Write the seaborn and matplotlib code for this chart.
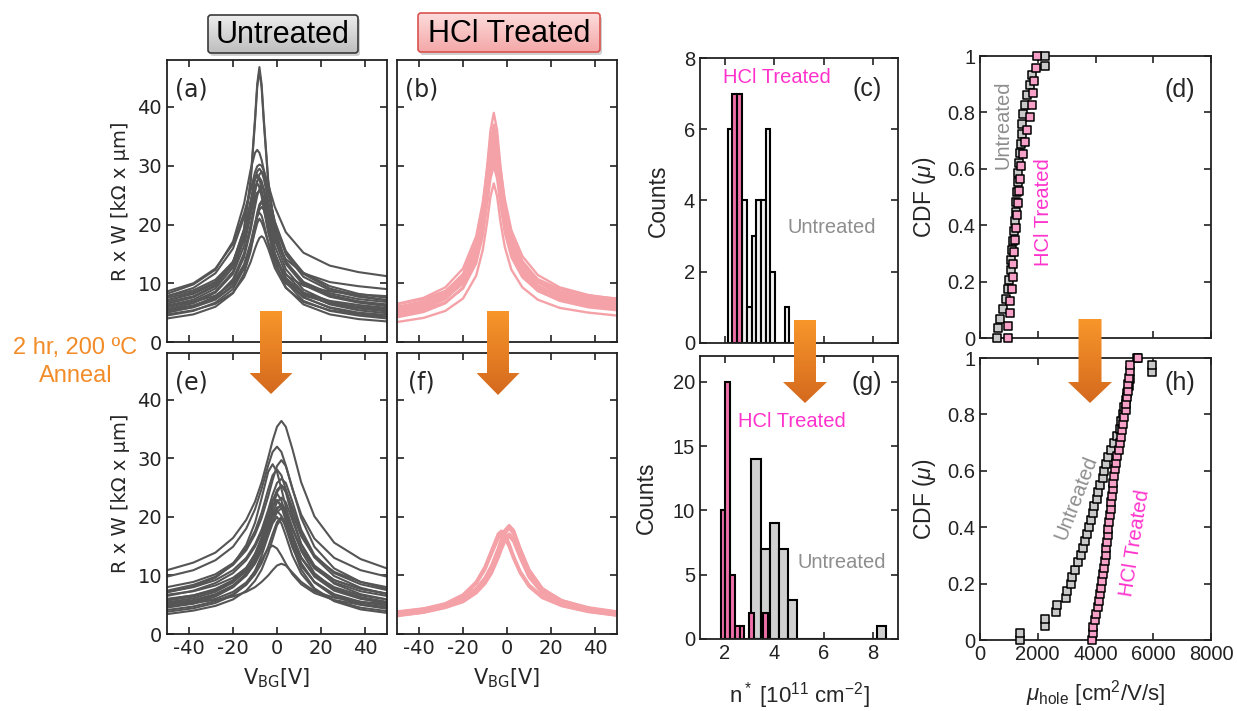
import numpy as np
import pandas as pd
import matplotlib
matplotlib.use("Agg")
import matplotlib.pyplot as plt
import seaborn as sns
from matplotlib.patches import Polygon, FancyBboxPatch
from matplotlib.colors import LinearSegmentedColormap

# ---------------- data: R x W curves (kOhm x um) vs V_BG (V) ----------------
V_a = [-50, -38, -28, -20, -15, -12, -10, -9, -8, -7, -6, -4, -1, 4, 12, 24, 37, 50]
curves_a = [
    [7.1, 8.2, 10.0, 13.5, 19.2, 27.6, 38.0, 43.9, 46.8, 43.9, 38.0, 27.6, 19.2, 13.5, 10.0, 7.9, 6.9, 6.4],
    [8.2, 9.8, 12.3, 17.1, 23.5, 29.3, 32.2, 32.7, 32.2, 31.0, 29.3, 25.4, 20.5, 15.5, 11.6, 9.1, 7.9, 7.1],
    [7.8, 9.2, 11.7, 15.9, 21.2, 25.9, 28.9, 29.9, 30.2, 30.0, 29.2, 26.8, 23.0, 18.7, 15.2, 13.0, 11.9, 11.2],
    [7.8, 8.8, 10.6, 13.6, 17.7, 22.0, 25.6, 27.3, 28.5, 29.0, 28.5, 25.6, 20.4, 14.9, 11.1, 8.8, 7.7, 7.1],
    [5.6, 6.6, 8.4, 11.6, 16.3, 21.5, 25.8, 27.4, 28.0, 27.4, 25.8, 21.5, 16.3, 11.6, 8.4, 6.4, 5.4, 4.9],
    [5.9, 6.9, 8.6, 12.0, 17.4, 23.5, 27.8, 28.5, 27.8, 25.9, 23.5, 19.1, 14.7, 10.9, 8.2, 6.5, 5.7, 5.2],
    [5.0, 6.0, 7.6, 10.7, 15.1, 19.9, 23.8, 25.3, 25.8, 25.3, 23.8, 19.9, 15.1, 10.7, 7.6, 5.8, 4.8, 4.3],
    [4.0, 4.7, 6.0, 8.3, 11.6, 15.4, 19.3, 21.4, 23.1, 23.8, 23.1, 19.3, 13.9, 9.3, 6.4, 4.7, 3.9, 3.5],
    [7.1, 8.3, 10.2, 13.7, 18.1, 22.0, 24.6, 25.4, 25.7, 25.4, 24.6, 22.0, 18.1, 13.7, 10.2, 8.0, 6.9, 6.2],
    [6.2, 7.2, 9.1, 12.7, 17.9, 23.2, 26.4, 26.9, 26.4, 25.3, 23.8, 20.8, 17.3, 14.1, 11.7, 10.2, 9.5, 9.0],
    [5.1, 5.9, 7.2, 9.5, 12.8, 16.4, 19.6, 21.3, 22.5, 23.0, 22.5, 19.6, 15.0, 10.6, 7.6, 5.9, 5.0, 4.6],
    [4.7, 5.4, 6.5, 8.4, 11.0, 13.6, 15.9, 16.9, 17.7, 18.0, 17.7, 15.9, 12.6, 9.2, 6.8, 5.4, 4.7, 4.3],
    [6.2, 6.8, 7.9, 10.0, 13.2, 16.9, 20.2, 21.5, 22.0, 21.5, 20.2, 16.9, 13.2, 10.0, 7.9, 6.7, 6.0, 5.7],
    [8.6, 10.0, 12.5, 16.7, 21.9, 25.9, 27.8, 28.1, 27.8, 27.1, 25.9, 23.3, 19.5, 15.3, 11.8, 9.5, 8.2, 7.5],
    [7.5, 8.5, 10.2, 13.6, 19.1, 27.2, 37.4, 43.3, 46.2, 43.3, 37.4, 27.2, 19.1, 13.6, 10.2, 8.3, 7.3, 6.8],
    [4.5, 5.3, 6.7, 9.0, 12.5, 16.5, 20.0, 22.0, 23.4, 24.0, 23.4, 20.3, 15.0, 10.2, 7.0, 5.3, 4.5, 4.0],
    [6.5, 7.6, 9.5, 13.2, 18.5, 23.8, 26.4, 27.0, 26.4, 24.8, 22.7, 18.6, 14.3, 10.8, 8.4, 7.0, 6.3, 5.8],
    [6.8, 7.8, 9.7, 13.3, 18.4, 24.0, 27.8, 29.0, 29.5, 29.0, 27.8, 24.0, 18.4, 13.3, 9.7, 7.7, 6.7, 6.1],
    [5.5, 6.2, 7.4, 9.6, 12.7, 15.9, 18.8, 20.2, 21.0, 20.4, 19.4, 17.0, 14.0, 11.4, 9.6, 8.6, 8.1, 7.8],
    [5.3, 6.2, 7.7, 10.3, 14.4, 19.0, 23.0, 24.9, 26.0, 26.5, 26.0, 23.0, 17.4, 12.4, 8.9, 6.8, 5.9, 5.4],
]

V_b = [-50, -38, -28, -20, -14, -11, -9, -7.5, -6, -4.5, -3, -1, 2, 7, 14, 24, 37, 50]
curves_b = [
    [5.3, 6.4, 8.1, 11.2, 16.9, 23.1, 30.0, 36.0, 39.0, 36.0, 30.0, 23.6, 17.9, 13.3, 10.2, 8.1, 6.9, 6.2],
    [5.7, 6.7, 8.4, 11.3, 16.7, 22.6, 28.9, 34.3, 37.0, 34.3, 28.9, 23.1, 17.7, 13.4, 10.4, 8.5, 7.3, 6.6],
    [5.1, 6.1, 7.7, 10.4, 15.7, 21.4, 27.7, 33.1, 35.8, 33.1, 27.7, 21.9, 16.7, 12.5, 9.6, 7.8, 6.7, 6.1],
    [6.0, 6.9, 8.4, 11.1, 16.0, 21.4, 27.0, 31.7, 34.1, 31.7, 27.0, 21.9, 17.0, 13.1, 10.4, 8.6, 7.6, 7.0],
    [4.7, 5.7, 7.3, 10.1, 15.3, 20.8, 26.4, 30.9, 33.1, 30.9, 26.4, 21.3, 16.3, 12.2, 9.3, 7.4, 6.2, 5.6],
    [5.3, 6.1, 7.5, 9.9, 14.5, 19.5, 24.9, 29.6, 32.0, 29.6, 24.9, 20.0, 15.5, 11.9, 9.4, 7.8, 6.8, 6.3],
    [6.4, 7.3, 8.7, 11.3, 15.8, 20.6, 25.3, 29.1, 30.9, 29.1, 25.3, 21.1, 16.8, 13.3, 10.7, 9.0, 7.9, 7.4],
    [4.7, 5.5, 6.8, 9.1, 13.4, 18.1, 23.3, 27.8, 30.0, 27.8, 23.3, 18.6, 14.4, 11.0, 8.7, 7.1, 6.2, 5.7],
    [3.4, 4.1, 5.3, 7.4, 11.3, 15.7, 20.5, 24.8, 27.0, 24.8, 20.5, 16.2, 12.3, 9.3, 7.2, 5.8, 5.0, 4.5],
    [6.5, 7.5, 9.3, 12.5, 18.0, 23.8, 29.5, 33.9, 36.0, 33.9, 29.5, 24.3, 19.0, 14.6, 11.4, 9.3, 8.0, 7.3],
    [4.4, 5.3, 6.7, 9.3, 14.1, 19.5, 25.4, 30.7, 33.5, 30.7, 25.4, 20.0, 15.1, 11.3, 8.7, 7.0, 5.9, 5.4],
    [5.8, 6.9, 8.6, 11.6, 17.1, 22.8, 28.4, 32.9, 35.1, 32.9, 28.4, 23.3, 18.1, 13.8, 10.6, 8.6, 7.4, 6.7],
    [4.9, 5.9, 7.5, 10.2, 15.2, 20.5, 26.0, 30.5, 32.5, 30.5, 26.0, 21.0, 16.2, 12.4, 9.6, 7.7, 6.6, 6.0],
    [5.5, 6.5, 8.1, 10.8, 16.0, 21.8, 27.8, 32.8, 35.0, 32.8, 27.8, 22.3, 17.2, 13.0, 10.1, 8.2, 7.0, 6.4],
    [4.2, 5.1, 6.6, 9.2, 14.0, 19.2, 24.8, 29.4, 31.5, 29.4, 24.8, 19.7, 15.0, 11.5, 9.0, 7.3, 6.3, 5.8],
]

V_e = [-50, -38, -28, -20, -14, -10, -7, -4, -2, 0, 2, 4, 7, 11, 17, 26, 38, 50]
curves_e = [
    [10.9, 12.2, 13.9, 16.4, 19.5, 22.6, 25.9, 30.1, 33.0, 35.4, 36.4, 35.4, 31.6, 25.9, 20.1, 15.6, 12.8, 11.2],
    [9.8, 10.9, 12.6, 14.9, 18.0, 21.3, 24.8, 28.8, 31.1, 32.0, 31.1, 28.8, 24.8, 20.4, 16.3, 13.0, 10.9, 9.8],
    [7.4, 8.4, 9.8, 11.8, 14.3, 17.0, 19.8, 23.5, 26.3, 28.7, 29.7, 28.7, 24.9, 19.8, 14.9, 11.2, 8.9, 7.7],
    [8.0, 8.9, 10.2, 12.1, 14.7, 17.6, 20.7, 24.7, 27.1, 28.1, 27.1, 24.7, 20.7, 16.7, 13.2, 10.6, 8.9, 8.0],
    [6.5, 7.4, 8.7, 10.4, 12.6, 14.9, 17.3, 20.4, 22.7, 24.6, 25.4, 24.6, 21.6, 17.3, 13.1, 9.9, 7.9, 6.8],
    [5.7, 6.4, 7.5, 9.1, 11.0, 13.1, 15.3, 18.3, 20.6, 22.5, 23.3, 22.5, 19.4, 15.3, 11.5, 8.6, 6.8, 5.9],
    [5.9, 6.6, 7.7, 9.2, 11.3, 13.7, 16.3, 19.8, 21.9, 22.9, 21.9, 19.8, 16.3, 13.0, 10.1, 8.0, 6.6, 5.9],
    [5.0, 5.7, 6.7, 8.2, 10.0, 12.0, 14.2, 17.1, 19.3, 21.3, 22.2, 21.3, 18.2, 14.2, 10.4, 7.7, 6.1, 5.2],
    [4.8, 5.5, 6.5, 8.0, 10.0, 12.3, 14.8, 18.1, 20.2, 21.0, 20.2, 18.1, 14.8, 11.6, 8.9, 6.8, 5.5, 4.8],
    [4.1, 4.7, 5.6, 6.8, 8.4, 10.2, 12.1, 14.9, 17.1, 19.1, 20.0, 19.1, 15.9, 12.1, 8.8, 6.4, 5.0, 4.3],
    [4.7, 5.2, 6.0, 7.2, 8.8, 10.7, 12.7, 14.6, 15.1, 14.6, 13.4, 12.0, 10.2, 8.5, 7.0, 5.8, 5.0, 4.5],
    [5.0, 5.4, 5.8, 6.4, 7.2, 8.0, 8.9, 10.0, 10.9, 11.7, 12.0, 11.7, 10.5, 8.9, 7.3, 6.2, 5.5, 5.1],
    [7.1, 8.1, 9.6, 11.9, 15.2, 19.0, 23.2, 27.7, 29.0, 27.7, 24.8, 21.7, 17.9, 14.5, 11.5, 9.2, 7.7, 6.9],
    [6.7, 7.3, 8.3, 9.6, 11.3, 13.2, 15.4, 18.6, 21.4, 24.2, 25.4, 24.2, 20.0, 15.4, 11.7, 9.2, 7.7, 6.9],
    [4.5, 5.2, 6.4, 8.0, 10.2, 12.7, 15.6, 19.3, 21.8, 22.8, 21.8, 19.3, 15.6, 12.0, 8.9, 6.7, 5.2, 4.5],
    [3.4, 4.0, 4.8, 5.9, 7.4, 9.1, 11.0, 13.8, 16.2, 18.6, 19.7, 18.6, 15.0, 11.0, 7.8, 5.6, 4.2, 3.6],
    [5.4, 6.1, 7.2, 8.8, 11.0, 13.6, 16.5, 20.4, 22.8, 24.0, 22.8, 20.4, 16.5, 13.1, 10.0, 7.7, 6.3, 5.5],
    [6.0, 6.6, 7.5, 8.9, 10.7, 12.6, 14.6, 17.2, 19.2, 20.8, 21.5, 20.8, 18.0, 14.6, 11.2, 8.8, 7.3, 6.5],
    [3.8, 4.4, 5.3, 6.6, 8.5, 10.8, 13.4, 16.8, 18.9, 20.0, 18.9, 16.8, 13.4, 10.3, 7.6, 5.7, 4.5, 3.9],
    [7.2, 8.0, 9.2, 10.9, 13.0, 15.3, 17.8, 21.2, 23.8, 25.8, 26.5, 25.8, 22.6, 17.8, 13.5, 10.4, 8.5, 7.5],
    [5.2, 5.8, 6.8, 8.3, 10.3, 12.6, 15.0, 18.2, 20.3, 21.6, 21.8, 20.3, 17.0, 13.0, 9.8, 7.4, 6.0, 5.3],
]

V_f = [-50, -38, -28, -20, -14, -10, -7, -4, -2.5, -1, 1, 3, 6, 10, 16, 25, 37, 50]
curves_f = [
    [3.4, 4.0, 4.9, 6.1, 7.7, 9.5, 11.6, 14.4, 16.1, 17.6, 18.5, 17.6, 14.4, 10.8, 7.7, 5.5, 4.2, 3.5],
    [3.7, 4.2, 5.0, 6.2, 7.7, 9.4, 11.4, 14.2, 15.8, 17.3, 18.2, 17.3, 14.2, 10.7, 7.7, 5.7, 4.4, 3.7],
    [3.1, 3.7, 4.6, 5.8, 7.3, 9.1, 11.0, 13.6, 15.1, 16.3, 17.1, 16.3, 13.6, 10.3, 7.3, 5.2, 3.9, 3.2],
    [3.5, 4.1, 5.1, 6.6, 8.9, 11.5, 14.3, 17.1, 17.6, 17.1, 15.4, 13.3, 10.7, 8.4, 6.4, 4.9, 3.9, 3.3],
    [3.7, 4.3, 5.2, 6.7, 8.8, 11.3, 14.1, 16.8, 17.3, 16.8, 15.1, 13.1, 10.6, 8.3, 6.4, 5.0, 4.1, 3.5],
    [3.8, 4.3, 5.0, 6.1, 7.6, 9.3, 11.2, 14.0, 15.6, 17.1, 18.1, 17.1, 14.0, 10.5, 7.6, 5.7, 4.5, 3.8],
    [3.3, 4.0, 4.8, 6.1, 7.8, 9.6, 11.7, 14.6, 16.2, 17.7, 18.5, 17.7, 14.6, 11.0, 7.8, 5.5, 4.2, 3.4],
    [3.2, 3.7, 4.5, 5.5, 7.0, 8.6, 10.4, 13.0, 14.5, 15.8, 16.7, 15.8, 13.0, 9.7, 7.0, 5.1, 3.9, 3.3],
    [3.6, 4.1, 4.9, 6.0, 7.6, 9.4, 11.4, 14.3, 16.0, 17.5, 18.3, 17.4, 14.1, 10.6, 7.6, 5.6, 4.3, 3.6],
    [3.4, 4.0, 5.0, 6.5, 8.6, 11.0, 13.7, 16.3, 16.9, 16.4, 14.9, 12.9, 10.4, 8.1, 6.2, 4.8, 3.8, 3.2],
]

# ---------------- data: n* histograms (bin centre, counts) ----------------
n_untreated_c = [2.23, 2.42, 2.61, 2.80, 2.99, 3.18, 3.37, 3.56, 3.75, 3.94, 4.13, 4.32, 4.51]
cnt_untreated_c = [6, 0, 0, 4, 1, 3, 4, 4, 6, 2, 0, 0, 1]
n_hcl_c = [2.395, 2.585]
cnt_hcl_c = [7, 7]
bw_c = 0.19

n_untreated_g = [3.26, 3.63, 4.00, 4.37, 4.74, 8.33]
cnt_untreated_g = [14, 7, 9, 7, 3, 1]
bw_untreated_g = 0.37
n_hcl_g = [1.935, 2.125, 2.315, 2.505, 2.695, 2.885, 3.075, 3.265, 3.455, 3.645]
cnt_hcl_g = [10, 20, 5, 1, 1, 0, 2, 0, 0, 2]
bw_hcl_g = 0.19

# ---------------- data: sorted hole mobilities (cm^2/V/s) ----------------
mu_untreated_d = [600, 640, 690, 800, 900, 980, 1020, 1060, 1090, 1120, 1150, 1180, 1210, 1230, 1260,
                  1280, 1300, 1330, 1360, 1380, 1410, 1440, 1470, 1500, 1560, 1640, 1720, 1800, 2250, 2250]
mu_hcl_d = [981, 981, 1039, 1039, 1096, 1154, 1154, 1189, 1212, 1247, 1270, 1304, 1362, 1385, 1408,
            1477, 1570, 1616, 1731, 1789, 1847, 1870, 1939, 1985]
mu_untreated_h = [1400, 1400, 2250, 2250, 2630, 2650, 2980, 3000, 3150, 3200, 3300, 3380, 3500, 3550,
                  3620, 3700, 3780, 3840, 3900, 3960, 4050, 4100, 4150, 4250, 4300, 4380, 4450, 4550,
                  4650, 4750, 4850, 4900, 4950, 5000, 5050, 5100, 5150, 5200, 5940, 5940, 5450]
mu_hcl_h = [3870, 3900, 3930, 3980, 4030, 4070, 4110, 4150, 4190, 4230, 4260, 4290, 4320, 4350, 4380,
            4400, 4420, 4440, 4470, 4500, 4520, 4550, 4570, 4600, 4620, 4650, 4680, 4720, 4760, 4800,
            4840, 4880, 4920, 4960, 5000, 5040, 5060, 5080, 5110, 5140, 5160, 5180, 5200, 5480]

# ---------------- style ----------------
sns.set_style("ticks")
plt.rcParams.update({
    "font.family": ["DejaVu Sans"],
    "axes.unicode_minus": False,
    "xtick.direction": "in", "ytick.direction": "in",
    "xtick.top": True, "ytick.right": True,
    "xtick.major.size": 5, "ytick.major.size": 5,
    "xtick.major.width": 1.2, "ytick.major.width": 1.2,
    "axes.linewidth": 1.3, "axes.edgecolor": "#222222",
    "xtick.color": "#222222", "ytick.color": "#222222",
    "mathtext.fontset": "custom",
    "mathtext.rm": "Liberation Sans",
    "mathtext.it": "Liberation Sans:italic",
    "mathtext.bf": "Liberation Sans:bold",
    "mathtext.default": "regular",
})

GRAY_LINE = "#555555"
PINK_LINE = "#F4A2A8"
PINK_BAR = "#EF6FAA"
GRAY_BAR = "#D0D0D0"
MAGENTA = "#FF33CC"
GRAY_TXT = "#8E8E8E"

W, H = 1237, 711
fig = plt.figure(figsize=(W / 100, H / 100), dpi=100)


def px_axes(x0, y0, x1, y1):
    return fig.add_axes([x0 / W, 1 - y1 / H, (x1 - x0) / W, (y1 - y0) / H])


def curves_frame(V, curves):
    return pd.DataFrame({
        "V": np.tile(V, len(curves)),
        "R": np.concatenate(curves),
        "curve": np.repeat(np.arange(len(curves)), len(V)),
    })


def set_tick_font(ax, family, size):
    ax.tick_params(labelsize=size)
    for lab in ax.get_xticklabels() + ax.get_yticklabels():
        lab.set_fontfamily(family)
        lab.set_fontsize(size)


def line_panel(ax, V, curves, color, lw, letter, xlab, ylab):
    sns.lineplot(data=curves_frame(V, curves), x="V", y="R", units="curve",
                 estimator=None, color=color, lw=lw, ax=ax, legend=False)
    ax.set_xlim(-50, 50)
    ax.set_ylim(0, 48)
    ax.set_xticks([-40, -20, 0, 20, 40])
    ax.set_yticks([0, 10, 20, 30, 40])
    ax.tick_params(labelbottom=xlab, labelleft=ylab)
    set_tick_font(ax, "DejaVu Sans", 14)
    ax.set_xlabel("")
    ax.set_ylabel("")
    if ylab:
        ax.set_ylabel("R x W [k\u03a9 x \u03bcm]", fontsize=14, family="DejaVu Sans")
        ax.yaxis.set_label_coords(-0.168, 0.5)
    if xlab:
        ax.set_xlabel(r"V$_\mathregular{BG}$[V]", fontsize=15, family="DejaVu Sans")
        ax.xaxis.set_label_coords(0.5, -0.117)
        ax.xaxis.label.set_va("top")
    ax.text(0.11, 0.895, letter, transform=ax.transAxes, ha="center", va="center",
            fontsize=17, family="DejaVu Sans")


ax_a = px_axes(167, 60, 387, 342)
ax_b = px_axes(397, 60, 617, 342)
ax_e = px_axes(167, 353, 387, 634)
ax_f = px_axes(397, 353, 617, 634)
line_panel(ax_a, V_a, curves_a, GRAY_LINE, 1.5, "(a)", False, True)
line_panel(ax_b, V_b, curves_b, PINK_LINE, 1.7, "(b)", False, False)
line_panel(ax_e, V_e, curves_e, GRAY_LINE, 1.5, "(e)", True, True)
line_panel(ax_f, V_f, curves_f, PINK_LINE, 2.2, "(f)", True, False)


def edges_from(centers, width):
    c = np.asarray(centers, dtype=float)
    e = np.unique(np.round(np.concatenate([c - width / 2, c + width / 2]), 4))
    return [float(v) for v in e]


def hist_panel(ax, groups, ylim, yticks, letter, xlab):
    for centers, counts, width, fc in groups:
        df = pd.DataFrame({"n": centers, "count": counts})
        sns.histplot(data=df, x="n", weights="count", bins=edges_from(centers, width), ax=ax,
                     color=fc, alpha=1, edgecolor="black", linewidth=1.5, legend=False)
    ax.set_xlim(1, 9)
    ax.set_ylim(0, ylim)
    ax.set_xticks([2, 4, 6, 8])
    ax.set_yticks(yticks)
    ax.tick_params(labelbottom=xlab)
    set_tick_font(ax, "Liberation Sans", 14.5)
    ax.set_xlabel("")
    ax.set_ylabel("Counts", fontsize=16.5, family="Liberation Sans")
    ax.text(0.843, 0.89 if ylim == 8 else 0.905, letter, transform=ax.transAxes,
            ha="center", va="center", fontsize=18, family="Liberation Sans")


ax_c = px_axes(700, 58, 898, 343)
ax_g = px_axes(700, 356, 898, 639)
hist_panel(ax_c, [(n_untreated_c, cnt_untreated_c, bw_c, "#F2F2F2"),
                  (n_hcl_c, cnt_hcl_c, bw_c, PINK_BAR)], 8, [0, 2, 4, 6, 8], "(c)", False)
hist_panel(ax_g, [(n_untreated_g, cnt_untreated_g, bw_untreated_g, GRAY_BAR),
                  (n_hcl_g, cnt_hcl_g, bw_hcl_g, PINK_BAR)], 22, [0, 5, 10, 15, 20], "(g)", True)
ax_c.yaxis.set_label_coords(-0.152, 0.5)
ax_g.yaxis.set_label_coords(-0.212, 0.5)
ax_g.set_xlabel(r"n$^*$ [10$^{11}$ cm$^{-2}$]", fontsize=16, family="Liberation Sans")
ax_g.xaxis.set_label_coords(0.5, -0.145)
ax_g.xaxis.label.set_va("top")
ax_c.text(0.389, 0.93, "HCl Treated", transform=ax_c.transAxes, color=MAGENTA,
          ha="center", va="center", fontsize=14.5, family="Liberation Sans")
ax_c.text(0.667, 0.404, "Untreated", transform=ax_c.transAxes, color=GRAY_TXT,
          ha="center", va="center", fontsize=14.5, family="Liberation Sans")
ax_g.text(0.465, 0.767, "HCl Treated", transform=ax_g.transAxes, color=MAGENTA,
          ha="center", va="center", fontsize=14.5, family="Liberation Sans")
ax_g.text(0.717, 0.272, "Untreated", transform=ax_g.transAxes, color=GRAY_TXT,
          ha="center", va="center", fontsize=14.5, family="Liberation Sans")


def cdf_panel(ax, mu_u, mu_t, letter, xlab):
    for mu, fc in ((mu_u, "#C9C9C9"), (mu_t, "#F7A0C8")):
        n = len(mu)
        cdf = np.arange(n) / (n - 1)
        sns.scatterplot(x=mu, y=cdf, marker="s", s=36, color=fc, edgecolor="black",
                        linewidth=1.1, ax=ax, clip_on=False, zorder=3, legend=False)
    ax.set_xlim(0, 8000)
    ax.set_ylim(0, 1)
    ax.set_xticks([0, 2000, 4000, 6000, 8000])
    ax.set_yticks([0, 0.2, 0.4, 0.6, 0.8, 1])
    ax.set_yticklabels(["0", "0.2", "0.4", "0.6", "0.8", "1"])
    ax.tick_params(labelbottom=xlab)
    set_tick_font(ax, "Liberation Sans", 14.5)
    ax.set_xlabel("")
    ax.set_ylabel(r"CDF ($\mathit{\mu}$)", fontsize=16.5, family="Liberation Sans")
    ax.yaxis.set_label_coords(-0.182, 0.5)
    ax.text(0.866, 0.88 if not xlab else 0.91, letter, transform=ax.transAxes,
            ha="center", va="center", fontsize=18, family="Liberation Sans")


ax_d = px_axes(980, 56, 1211, 338)
ax_h = px_axes(980, 358, 1211, 640)
cdf_panel(ax_d, mu_untreated_d, mu_hcl_d, "(d)", False)
cdf_panel(ax_h, mu_untreated_h, mu_hcl_h, "(h)", True)
ax_h.set_xlabel(r"$\mathit{\mu}_\mathregular{hole}$ [cm$^2$/V/s]", fontsize=16,
                family="Liberation Sans")
ax_h.xaxis.set_label_coords(0.5, -0.135)
ax_h.xaxis.label.set_va("top")
ax_d.text(0.10, 0.755, "Untreated", transform=ax_d.transAxes, color=GRAY_TXT, rotation=90,
          ha="center", va="center", fontsize=14.5, family="Liberation Sans")
ax_d.text(0.273, 0.447, "HCl Treated", transform=ax_d.transAxes, color=MAGENTA, rotation=90,
          ha="center", va="center", fontsize=14.5, family="Liberation Sans")
ax_h.text(0.416, 0.504, "Untreated", transform=ax_h.transAxes, color=GRAY_TXT, rotation=69,
          ha="center", va="center", fontsize=14.5, family="Liberation Sans")
ax_h.text(0.671, 0.344, "HCl Treated", transform=ax_h.transAxes, color=MAGENTA, rotation=81,
          ha="center", va="center", fontsize=14.5, family="Liberation Sans")

# ---------------- overlay: title boxes, arrows, annotation ----------------
ov = fig.add_axes([0, 0, 1, 1], zorder=20)
ov.set_autoscale_on(False)
ov.set_xlim(0, W)
ov.set_ylim(H, 0)
ov.axis("off")
ov.patch.set_alpha(0)

grad = np.linspace(0, 1, 256)[:, None]


def gradient_patch(patch, c_top, c_bot, x0, x1, y0, y1):
    ov.add_patch(patch)
    cmap = LinearSegmentedColormap.from_list("g", [c_top, c_bot])
    im = ov.imshow(grad, cmap=cmap, extent=(x0, x1, y1, y0), aspect="auto",
                   interpolation="bilinear", zorder=patch.get_zorder())
    im.set_clip_path(patch)


def title_box(x0, y0, x1, y1, c_top, c_bot, edge, label):
    shadow = FancyBboxPatch((x0 + 2, y0 + 3), x1 - x0, y1 - y0,
                            boxstyle="round,pad=0,rounding_size=3",
                            fc="#000000", ec="none", alpha=0.18, zorder=1)
    ov.add_patch(shadow)
    box = FancyBboxPatch((x0, y0), x1 - x0, y1 - y0, boxstyle="round,pad=0,rounding_size=3",
                         fc="none", ec="none", zorder=2)
    gradient_patch(box, c_top, c_bot, x0, x1, y0, y1)
    ov.add_patch(FancyBboxPatch((x0, y0), x1 - x0, y1 - y0,
                                boxstyle="round,pad=0,rounding_size=3",
                                fc="none", ec=edge, lw=1.2, zorder=3))
    ov.text((x0 + x1) / 2, (y0 + y1) / 2 + 1, label, ha="center", va="center",
            fontsize=22, family="Liberation Sans", color="black", zorder=4)


title_box(208, 15, 358, 53, "#EDEDED", "#BDBDBD", "#3A3A3A", "Untreated")
title_box(418, 13, 600, 52, "#FDDCDC", "#F4A7A7", "#D9534F", "HCl Treated")


def arrow(cx, shaft_w, head_w, y_top, y_head, y_tip):
    pts = [(cx - shaft_w / 2, y_top), (cx + shaft_w / 2, y_top), (cx + shaft_w / 2, y_head),
           (cx + head_w / 2, y_head), (cx, y_tip), (cx - head_w / 2, y_head),
           (cx - shaft_w / 2, y_head)]
    poly = Polygon(pts, closed=True, fc="none", ec="none", zorder=5)
    gradient_patch(poly, "#F8962A", "#D4691E", cx - head_w / 2, cx + head_w / 2, y_top, y_tip)


arrow(271, 22, 43, 311, 373, 394)
arrow(498, 22, 43, 311, 373, 395)
arrow(805, 22, 44, 320, 382, 403)
arrow(1090, 23, 44, 319, 382, 403)

ov.text(75, 348, "2 hr, 200 \u00baC", ha="center", va="center", fontsize=17,
        family="Liberation Sans", color="#F28C28")
ov.text(76, 376, "Anneal", ha="center", va="center", fontsize=17,
        family="Liberation Sans", color="#F28C28")

fig.savefig("out.png", dpi=100)
